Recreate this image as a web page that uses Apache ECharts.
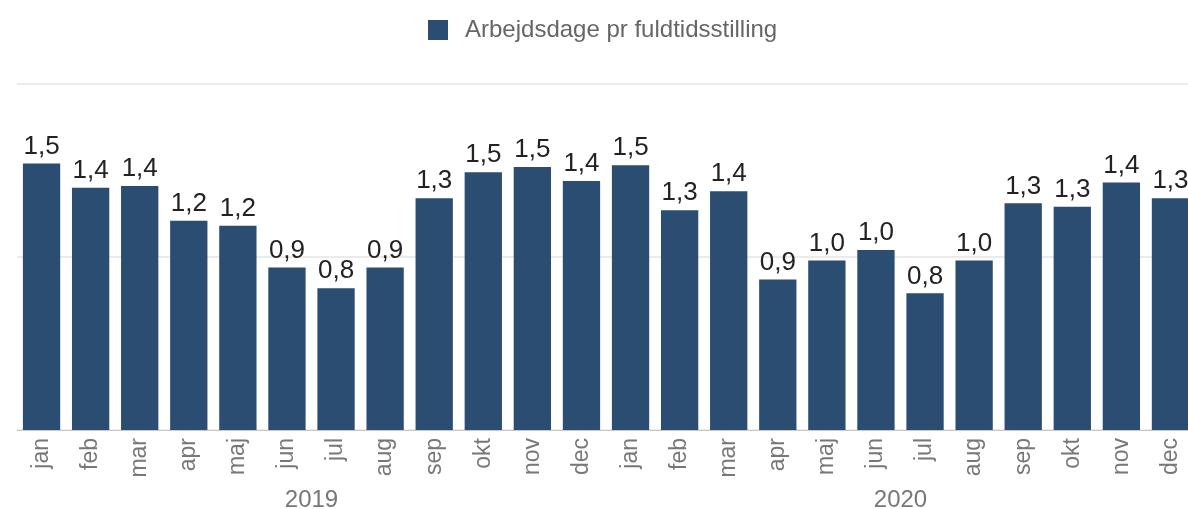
<!DOCTYPE html>
<html>
<head>
<meta charset="utf-8">
<script src="https://cdn.jsdelivr.net/npm/echarts@6/dist/echarts.min.js"></script>
<style>
  html, body { margin: 0; padding: 0; background: #fff; }
  #chart { width: 1188px; height: 509px; }
</style>
</head>
<body>
<div id="chart"></div>
<script>
// måneder for 2019 og 2020
var months = ['jan', 'feb', 'mar', 'apr', 'maj', 'jun', 'jul', 'aug', 'sep', 'okt', 'nov', 'dec',
              'jan', 'feb', 'mar', 'apr', 'maj', 'jun', 'jul', 'aug', 'sep', 'okt', 'nov', 'dec'];
var years = ['2019', '2020'];
var workdays = [1.54, 1.40, 1.41, 1.21, 1.18, 0.94, 0.82, 0.94, 1.34, 1.49, 1.52, 1.44,
                1.53, 1.27, 1.38, 0.87, 0.98, 1.04, 0.79, 0.98, 1.31, 1.29, 1.43, 1.34];
var seriesName = 'Arbejdsdage pr fuldtidsstilling';

var myChart = echarts.init(document.getElementById('chart'));
var font = 'Arial, "Liberation Sans", sans-serif';

var option = {
  animation: false,
  legend: {
    top: 13,
    left: 423,
    itemWidth: 20,
    itemHeight: 20,
    icon: 'rect',
    textStyle: { color: '#666', fontSize: 24, fontFamily: font, padding: [0, 0, 0, 12] }
  },
  grid: { left: 17, width: 1178, top: 84, height: 346, outerBoundsMode: 'none' },
  xAxis: [{
    type: 'category',
    data: months,
    axisLine: { lineStyle: { color: '#c8c8c8' } },
    axisTick: { show: false },
    axisLabel: { rotate: 90, margin: 8, color: '#777', fontSize: 23, fontFamily: font, interval: 0 }
  }, {
    type: 'category',
    data: years,
    position: 'bottom',
    axisLine: { show: false },
    axisTick: { show: false },
    axisLabel: { margin: 58, color: '#777', fontSize: 24, fontFamily: font }
  }],
  yAxis: {
    type: 'value',
    min: 0,
    max: 2,
    interval: 1,
    axisLabel: { show: false },
    axisLine: { show: false },
    axisTick: { show: false },
    splitLine: { lineStyle: { color: '#ebebeb', width: 2 } }
  },
  series: [{
    name: seriesName,
    type: 'bar',
    data: workdays,
    barCategoryGap: '24%',
    itemStyle: { color: '#2a4d71' },
    label: {
      show: true,
      position: 'top',
      distance: 4,
      color: '#222',
      fontSize: 26,
      fontFamily: font,
      formatter: function (p) { return p.value.toFixed(1).replace('.', ','); }
    }
  }]
};
myChart.setOption(option);
</script>
</body>
</html>
